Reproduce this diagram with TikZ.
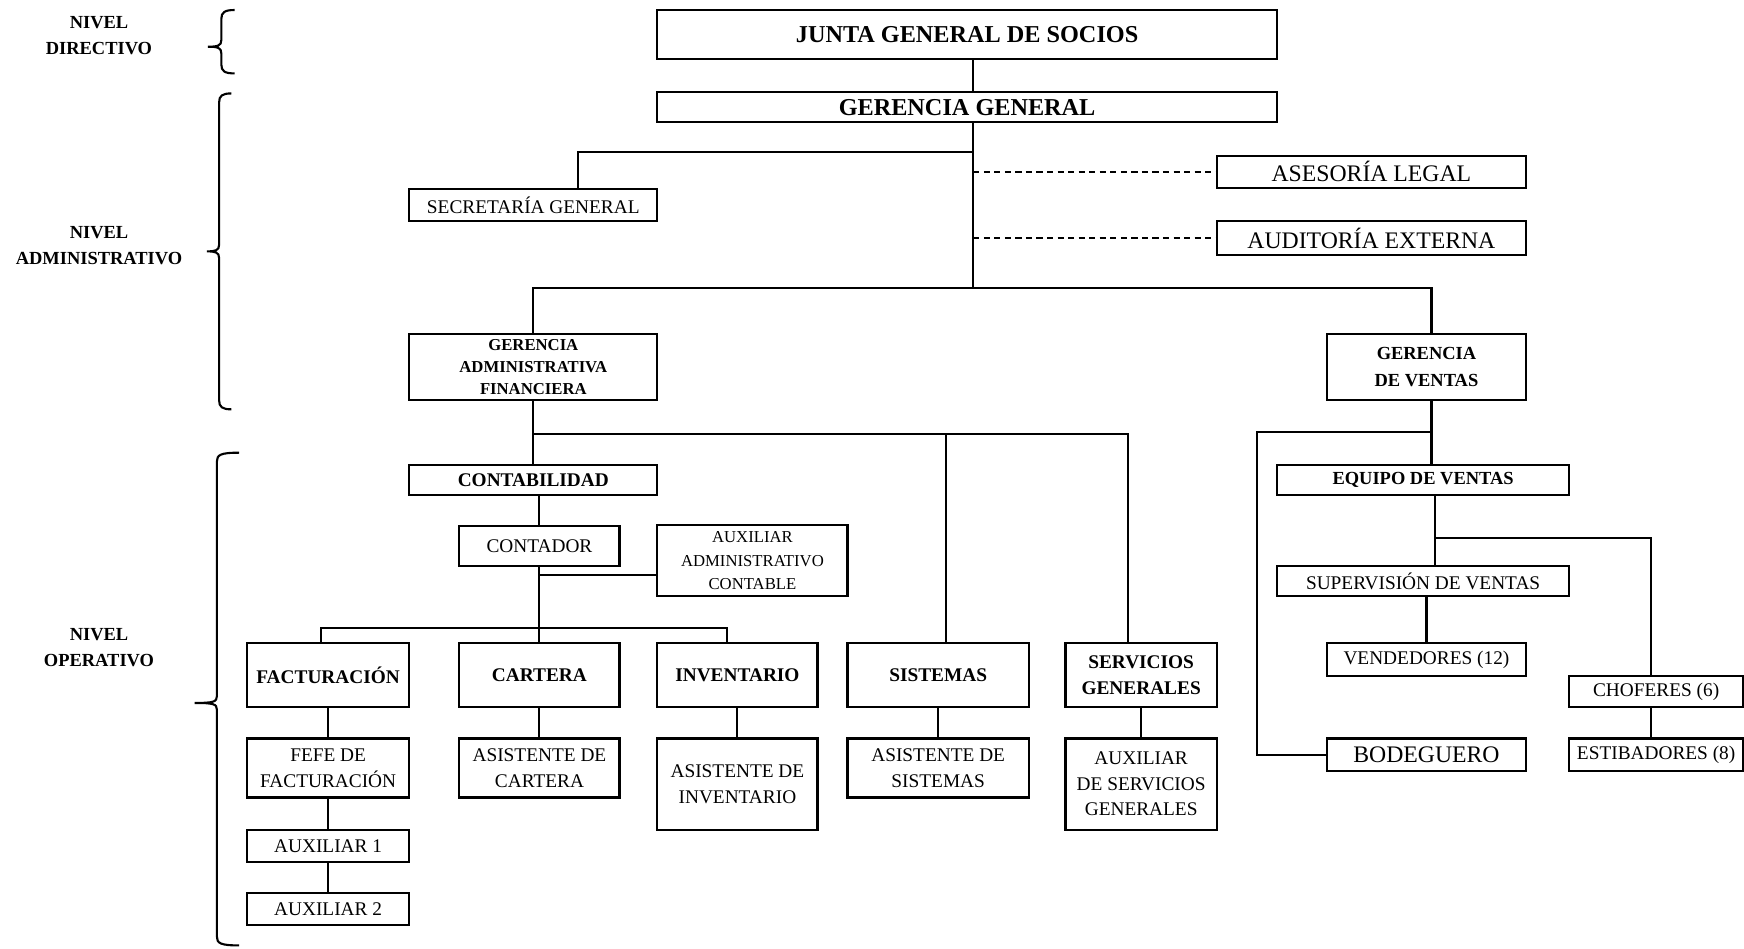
\documentclass[tikz,border=0pt]{standalone}
\usepackage{fontspec}
\setmainfont{Liberation Serif}
\newlength\pxu
\setlength\pxu{0.02224cm}
\begin{document}
\begin{tikzpicture}[x=\pxu, y=-\pxu, line width=1.2pt,
    box/.style={draw, line width=1.2pt, align=center, inner sep=1pt, font=\fontsize{11}{15}\selectfont},
    bbox/.style={box, font=\bfseries\fontsize{11}{15}\selectfont},
    sz/.style 2 args={minimum width=#1\pxu, minimum height=#2\pxu},
    lbl/.style={align=center, font=\bfseries\fontsize{10.5}{15}\selectfont}]
\useasboundingbox (0,0) rectangle (1568,853);
\node[lbl] (dir) at (89,32) {NIVEL\\DIRECTIVO};
\node[lbl] (adm) at (89,221) {NIVEL\\ADMINISTRATIVO};
\node[lbl] (ope) at (89,582) {NIVEL\\OPERATIVO};
\foreach \xs/\yt/\ym/\yb/\hk in {199/9/42/66/12, 197/84/226/368/11, 195/407/632/850/20}
    \draw (\xs+\hk,\yt) .. controls (\xs+3,\yt) and (\xs,\yt+2) .. (\xs,\yt+8) -- (\xs,\ym-6)
        .. controls (\xs,\ym-1) and (\xs-3,\ym) .. (\xs-\hk,\ym)
        .. controls (\xs-3,\ym) and (\xs,\ym+1) .. (\xs,\ym+6) -- (\xs,\yb-8)
        .. controls (\xs,\yb-2) and (\xs+3,\yb) .. (\xs+\hk,\yb);
\node[bbox, sz={557}{44}, font=\bfseries\fontsize{13.8}{16}\selectfont] (junta) at (869.5,31) {JUNTA GENERAL DE SOCIOS};
\node[bbox, sz={557}{27}, font=\bfseries\fontsize{13.8}{16}\selectfont] (gg) at (869.5,96.5) {GERENCIA GENERAL};
\node[box, sz={223}{29}] (secre) at (479.5,184.5) {SECRETARÍA GENERAL};
\node[box, sz={278}{29}, font=\fontsize{13.5}{16}\selectfont] (ases) at (1233,154.5) {ASESORÍA LEGAL};
\node[box, sz={278}{30}, font=\fontsize{13.5}{16}\selectfont] (audit) at (1233,214) {AUDITORÍA EXTERNA};
\node[bbox, sz={223}{60}, font=\bfseries\fontsize{9.5}{12.5}\selectfont] (gaf) at (479.5,330) {GERENCIA\\ADMINISTRATIVA\\FINANCIERA};
\node[bbox, sz={179}{60}, font=\bfseries\fontsize{10.5}{15}\selectfont] (gv) at (1282.5,330) {GERENCIA\\DE VENTAS};
\node[bbox, sz={223}{27}] (conta) at (479.5,431.5) {CONTABILIDAD};
\node[box, sz={144}{36}] (contador) at (485,491) {CONTADOR};
\node[box, sz={171}{64}, font=\fontsize{9.5}{13.5}\selectfont] (auxadm) at (676.5,504) {AUXILIAR\\ADMINISTRATIVO\\CONTABLE};
\node[bbox, sz={146}{58}] (fact) at (295,607) {FACTURACIÓN};
\node[bbox, sz={144}{58}] (cart) at (485,607) {CARTERA};
\node[bbox, sz={144}{58}] (inv) at (663,607) {INVENTARIO};
\node[bbox, sz={163}{58}] (sist) at (843.5,607) {SISTEMAS};
\node[bbox, sz={136}{58}] (serv) at (1026,607) {SERVICIOS\\GENERALES};
\node[box, sz={146}{53}] (jefe) at (295,690.5) {FEFE DE\\FACTURACIÓN};
\node[box, sz={146}{29}] (aux1) at (295,760.5) {AUXILIAR 1};
\node[box, sz={146}{29}] (aux2) at (295,817.5) {AUXILIAR 2};
\node[box, sz={144}{53}] (asiscart) at (485,690.5) {ASISTENTE DE\\CARTERA};
\node[box, sz={144}{82}] (asisinv) at (663,705) {ASISTENTE DE\\INVENTARIO};
\node[box, sz={163}{53}] (asissist) at (843.5,690.5) {ASISTENTE DE\\SISTEMAS};
\node[box, sz={136}{82}, font=\fontsize{11}{14.5}\selectfont] (auxserv) at (1026,705) {AUXILIAR\\DE SERVICIOS\\GENERALES};
\node[bbox, sz={263}{27}, font=\bfseries\fontsize{10.5}{15}\selectfont] (equipo) at (1279.5,431.5) {EQUIPO DE VENTAS};
\node[box, sz={263}{27}] (superv) at (1279.5,522.5) {SUPERVISIÓN DE VENTAS};
\node[box, sz={179}{30}] (vend) at (1282.5,593) {VENDEDORES (12)};
\node[box, sz={179}{29}, font=\fontsize{13.5}{16}\selectfont] (bodeg) at (1282.5,678.5) {BODEGUERO};
\node[box, sz={156}{28}] (chof) at (1489,622) {CHOFERES (6)};
\node[box, sz={156}{29}] (estib) at (1489,678.5) {ESTIBADORES (8)};
\coordinate (split) at (875,259);
\coordinate (secjoin) at (875,137);
\coordinate (opl) at (479.5,390);
\coordinate (auxjoin) at (485,517);
\coordinate (fbar) at (485,565);
\coordinate (bodcorner) at (1130,388);
\coordinate (chofjoin) at (1290,484);
\draw ([xshift=5.5\pxu]junta.south) -- ([xshift=5.5\pxu]gg.north);
\draw ([xshift=5.5\pxu]gg.south) -- (split);
\draw ([xshift=40.5\pxu]secre.north) |- (secjoin);
\draw[dashed, dash pattern=on 3.5pt off 2.5pt] (split |- ases) -- (ases);
\draw[dashed, dash pattern=on 3.5pt off 2.5pt] (split |- audit) -- (audit);
\draw (gaf) |- (split) -| ([xshift=4.5\pxu]gv.north);
\draw (gaf) -- (conta);
\draw (opl) -| ([xshift=-12\pxu]serv.north);
\draw ([xshift=7\pxu]sist.north) |- (opl);
\draw (conta.south -| contador) -- (contador);
\draw (contador) -- (cart);
\draw (auxjoin) -- (auxjoin -| auxadm.west);
\draw ([xshift=-6\pxu]fact.north) |- (fbar) -| ([xshift=-9\pxu]inv.north);
\draw (fact) -- (jefe);
\draw (jefe) -- (aux1);
\draw (aux1) -- (aux2);
\draw (cart) -- (asiscart);
\draw (inv) -- (asisinv);
\draw (sist) -- (asissist);
\draw (serv) -- (auxserv);
\draw ([xshift=4.5\pxu]gv.south) -- ([xshift=4.5\pxu]gv.south |- equipo.north);
\draw ([xshift=4.5\pxu]gv.south |- bodcorner) -- (bodcorner) |- (bodeg);
\draw (equipo.south -| chofjoin) -- (superv.north -| chofjoin);
\draw (chofjoin) -| ([xshift=-5\pxu]chof.north);
\draw (superv.south -| vend) -- (vend);
\draw ([xshift=-5\pxu]chof.south) -- ([xshift=-5\pxu]estib.north);
\end{tikzpicture}
\end{document}
